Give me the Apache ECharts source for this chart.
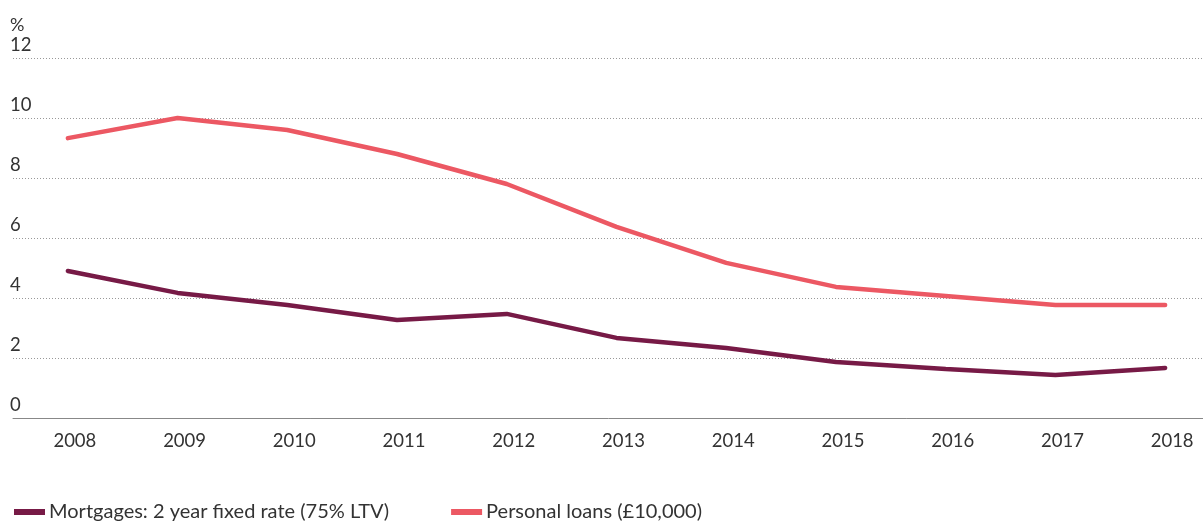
<!DOCTYPE html>
<html><head><meta charset="utf-8">
<script src="https://cdn.jsdelivr.net/npm/echarts@6/dist/echarts.min.js"></script>
<style>html,body{margin:0;padding:0;background:#fff}#c{width:1203px;height:521px}</style>
</head><body><div id="c"></div>
<script>
const years = ['2008','2009','2010','2011','2012','2013','2014','2015','2016','2017','2018'];
const mortgages = [4.9, 4.17, 3.77, 3.27, 3.47, 2.67, 2.33, 1.87, 1.63, 1.43, 1.67];
const personalLoans = [9.33, 10.0, 9.6, 8.8, 7.8, 6.37, 5.17, 4.37, 4.07, 3.77, 3.77];
const yTicks = [0, 2, 4, 6, 8, 10, 12];

const chart = echarts.init(document.getElementById('c'));
const font = 'Lato';
chart.setOption({
  animation: false,
  grid: {left: 13, width: 1207, top: 58, height: 360, containLabel: false, outerBoundsMode: 'none'},
  legend: {
    bottom: -6, left: 9, itemWidth: 31, itemHeight: 6, itemGap: 62,
    icon: 'rect',
    textStyle: {fontFamily: font, fontSize: 20, color: '#333', padding: [0,0,0,-1]},
    data: ['Mortgages: 2 year fixed rate (75% LTV)', 'Personal loans (£10,000)']
  },
  xAxis: {
    type: 'category', data: years, boundaryGap: true,
    axisLine: {lineStyle: {color: '#888', width: 1}},
    axisTick: {show: false},
    axisLabel: {fontFamily: font, fontSize: 18.5, color: '#333', margin: 14, padding: [0,0,0,14]}
  },
  yAxis: {
    type: 'value', min: 0, max: 12, interval: 2,
    name: '%', nameLocation: 'end', nameGap: 24,
    nameTextStyle: {fontFamily: font, fontSize: 18, color: '#333', align: 'left', padding: [0,0,0,-3]},
    axisLine: {show: false}, axisTick: {show: false},
    axisLabel: {inside: true, margin: -3, verticalAlign: 'bottom', padding: [0,0,3,0],
      fontFamily: font, fontSize: 18.5, color: '#333',
      formatter: v => yTicks.includes(v) ? String(v) : ''},
    splitLine: {lineStyle: {color: '#999', type: [1, 2], width: 1}}
  },
  series: [
    {name: 'Mortgages: 2 year fixed rate (75% LTV)', type: 'line', data: mortgages,
     showSymbol: false, symbol: 'none', color: '#771a46', lineStyle: {width: 4.5, cap: 'round'}},
    {name: 'Personal loans (£10,000)', type: 'line', data: personalLoans,
     showSymbol: false, symbol: 'none', color: '#ec5863', lineStyle: {width: 4.5, cap: 'round'}}
  ]
});
</script></body></html>
